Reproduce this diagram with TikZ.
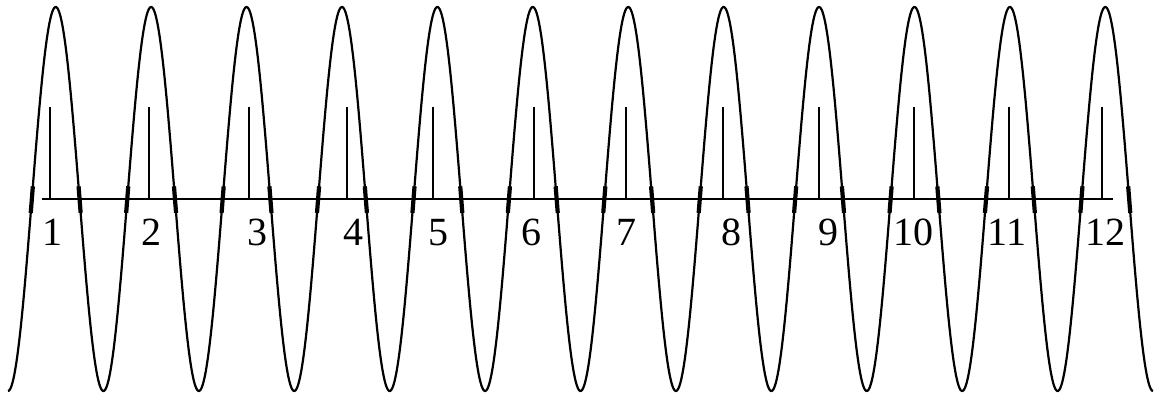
\documentclass[tikz,border=0pt]{standalone}
\usepackage{fontspec}
\setmainfont{Liberation Serif}
\begin{document}
\begin{tikzpicture}[x=1pt,y=-1pt,
  wave/.style={line width=2.2pt, line join=round},
  crosstick/.style={line width=4.2pt},
  baseline line/.style={line width=2pt},
  spike/.style={line width=1.8pt},
  lbl/.style={font=\fontsize{40}{44}\selectfont, inner sep=0pt, anchor=base}]
\useasboundingbox (0,0) rectangle (1157,395);
% wave
\draw[wave] plot[domain=8:1153, samples=1500] (\x, {199-192*cos(3.772794*(\x-55.7))});
% thick ticks at crossings
\foreach \k in {0,...,11}{
  \pgfmathsetmacro{\pa}{55.7+\k*95.42-23.855}
  \pgfmathsetmacro{\pb}{55.7+\k*95.42+23.855}
  \draw[crosstick] plot[domain=\pa-1.1:\pa+1.0, samples=5] (\x, {199-192*cos(3.772794*(\x-55.7))});
  \draw[crosstick] plot[domain=\pb-1.0:\pb+1.1, samples=5] (\x, {199-192*cos(3.772794*(\x-55.7))});
}
% horizontal line
\coordinate (hl) at (42,199);
\coordinate (hr) at (1113,199);
\draw[baseline line] (hl) -- (hr);
% spikes and labels
\foreach \i/\sx/\lx in {1/50/52.5,2/149/151,3/249/257,4/347/353,5/433/438,6/534/531,7/626/626,8/723/731,9/819/828,10/914/913,11/1009/1007,12/1102/1105}{
  \coordinate (s\i) at (\sx,107);
  \coordinate (b\i) at (\sx,199);
  \draw[spike] (s\i) -- (b\i);
  \node[lbl] (l\i) at (\lx,245.5) {\i};
}
\end{tikzpicture}
\end{document}
